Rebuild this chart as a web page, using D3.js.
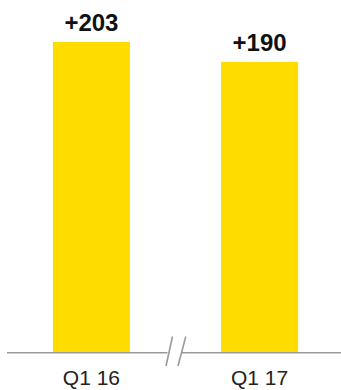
<!DOCTYPE html>
<html>
<head>
<meta charset="utf-8">
<script src="https://cdn.jsdelivr.net/npm/d3@7"></script>
<style>
  body { margin: 0; background: #fff; }
  svg { display: block; }
</style>
</head>
<body>
<div id="chart"></div>
<script>
var svgWidth = 341;
var svgHeight = 390;

// data
var categories = ["Q1 16", "Q1 17"];
var values = [203, 190];
var valueLabels = ["+203", "+190"];

var baseY = 352.7;

var svg = d3.select("#chart")
    .append("svg")
    .attr("width", svgWidth)
    .attr("height", svgHeight);

var x = d3.scaleBand()
    .domain(categories)
    .range([7.5, 343.5])
    .paddingInner(0.5417)
    .paddingOuter(0.27);

var y = d3.scaleLinear()
    .domain([0, 203])
    .range([baseY, 42]);

// bars
svg.selectAll("rect.bar")
    .data(values)
    .enter()
    .append("rect")
    .attr("class", "bar")
    .attr("x", (d, i) => x(categories[i]))
    .attr("y", d => y(d))
    .attr("width", x.bandwidth())
    .attr("height", d => y(0) - y(d))
    .attr("fill", "#ffdc00");

// value labels
svg.selectAll("text.val")
    .data(values)
    .enter()
    .append("text")
    .attr("class", "val")
    .attr("x", (d, i) => x(categories[i]) + x.bandwidth() / 2)
    .attr("y", d => y(d) - 11)
    .attr("text-anchor", "middle")
    .style("font-family", "Liberation Sans, Arial, Helvetica, sans-serif")
    .style("font-weight", "bold")
    .style("font-size", "24px")
    .style("fill", "#111")
    .text((d, i) => valueLabels[i]);

// baseline with a break between the bars
var axisColor = "#9a9a9a";
svg.append("line")
    .attr("x1", 7).attr("x2", 167.5)
    .attr("y1", baseY).attr("y2", baseY)
    .attr("stroke", axisColor).attr("stroke-width", 1.6);
svg.append("line")
    .attr("x1", 181.5).attr("x2", 341)
    .attr("y1", baseY).attr("y2", baseY)
    .attr("stroke", axisColor).attr("stroke-width", 1.6);

// break marks
[[172.5, 166], [185.8, 178]].forEach(function (s) {
    svg.append("line")
        .attr("x1", s[0]).attr("y1", 336.5)
        .attr("x2", s[1]).attr("y2", 366)
        .attr("stroke", axisColor).attr("stroke-width", 1.6);
});

// category labels
svg.selectAll("text.cat")
    .data(categories)
    .enter()
    .append("text")
    .attr("class", "cat")
    .attr("x", d => x(d) + x.bandwidth() / 2)
    .attr("y", 385)
    .attr("text-anchor", "middle")
    .style("font-family", "Liberation Sans, Arial, Helvetica, sans-serif")
    .style("font-size", "21px")
    .style("fill", "#222")
    .text(d => d);
</script>
</body>
</html>
